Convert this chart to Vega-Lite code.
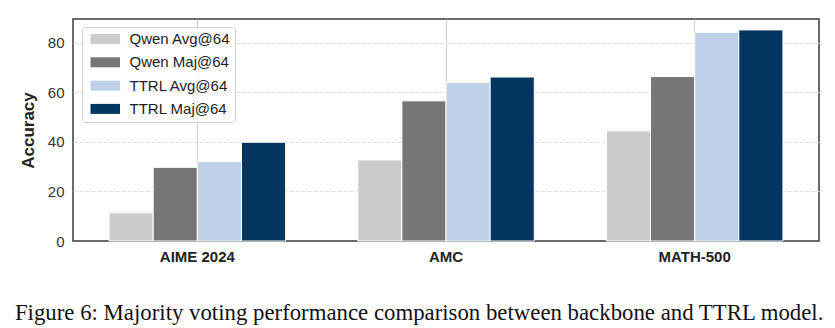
{
  "$schema": "https://vega.github.io/schema/vega-lite/v6.json",
  "autosize": {"type": "none"},
  "width": 746,
  "height": 222,
  "padding": {"left": 73, "top": 19, "right": 16, "bottom": 87},
  "background": "white",
  "title": {
    "text": "Figure 6: Majority voting performance comparison between backbone and TTRL model.",
    "orient": "bottom",
    "anchor": "middle",
    "frame": "bounds",
    "font": "Liberation Serif",
    "fontSize": 22.8,
    "fontWeight": "normal",
    "color": "#111",
    "offset": 38
  },
  "data": {
    "values": [
      {"dataset": "AIME 2024", "series": "Qwen Avg@64", "acc": 11.4},
      {"dataset": "AIME 2024", "series": "Qwen Maj@64", "acc": 29.7},
      {"dataset": "AIME 2024", "series": "TTRL Avg@64", "acc": 32.0},
      {"dataset": "AIME 2024", "series": "TTRL Maj@64", "acc": 39.8},
      {"dataset": "AMC", "series": "Qwen Avg@64", "acc": 32.7},
      {"dataset": "AMC", "series": "Qwen Maj@64", "acc": 56.5},
      {"dataset": "AMC", "series": "TTRL Avg@64", "acc": 63.9},
      {"dataset": "AMC", "series": "TTRL Maj@64", "acc": 66.1},
      {"dataset": "MATH-500", "series": "Qwen Avg@64", "acc": 44.4},
      {"dataset": "MATH-500", "series": "Qwen Maj@64", "acc": 66.3},
      {"dataset": "MATH-500", "series": "TTRL Avg@64", "acc": 84.2},
      {"dataset": "MATH-500", "series": "TTRL Maj@64", "acc": 85.1}
    ]
  },
  "mark": {"type": "bar", "stroke": "white", "strokeWidth": 1},
  "encoding": {
    "x": {
      "field": "dataset",
      "type": "nominal",
      "sort": null,
      "scale": {"paddingInner": 0.29, "paddingOuter": 0.145},
      "axis": {
        "title": null,
        "labelAngle": 0,
        "labelFont": "Liberation Sans",
        "labelFontSize": 15,
        "labelFontWeight": "bold",
        "labelColor": "#222",
        "labelPadding": 8,
        "ticks": false,
        "domain": false,
        "grid": true,
        "bandPosition": 0.5,
        "gridColor": "#cfcfcf",
        "gridWidth": 1
      }
    },
    "xOffset": {"field": "series", "type": "nominal", "scale": {"paddingInner": 0, "paddingOuter": 0}},
    "y": {
      "field": "acc",
      "type": "quantitative",
      "scale": {"domain": [0, 89.5], "nice": false},
      "axis": {
        "title": "Accuracy",
        "titleFont": "Liberation Sans",
        "titleFontSize": 17,
        "titleFontWeight": "bold",
        "titleColor": "#222",
        "titlePadding": 10,
        "values": [0, 20, 40, 60, 80],
        "labelFont": "Liberation Sans",
        "labelFontSize": 15,
        "labelColor": "#333",
        "labelPadding": 9,
        "ticks": false,
        "domain": false,
        "grid": true,
        "gridColor": {"condition": {"test": "datum.value === 0", "value": "transparent"}, "value": "#dddddd"},
        "gridDash": [4, 2],
        "gridWidth": 1
      }
    },
    "color": {
      "field": "series",
      "type": "nominal",
      "scale": {
        "domain": ["Qwen Avg@64", "Qwen Maj@64", "TTRL Avg@64", "TTRL Maj@64"],
        "range": ["#cccccc", "#767676", "#bed0e7", "#02355f"]
      },
      "legend": {
        "title": null,
        "orient": "none",
        "legendX": 9,
        "legendY": 8,
        "symbolType": "M-0.7,-1H5.2V1H-0.7Z",
        "symbolSize": 100,
        "symbolStrokeWidth": 0,
        "symbolOpacity": 1,
        "labelFont": "Liberation Sans",
        "labelFontSize": 15,
        "labelColor": "#222",
        "labelOffset": 28,
        "rowPadding": 7.3,
        "padding": 4.5,
        "strokeColor": "#d0d0d0",
        "fillColor": "rgba(255,255,255,0.8)",
        "cornerRadius": 3
      }
    }
  },
  "config": {
    "view": {"stroke": "#3a3a3a", "strokeWidth": 1.5}
  }
}
